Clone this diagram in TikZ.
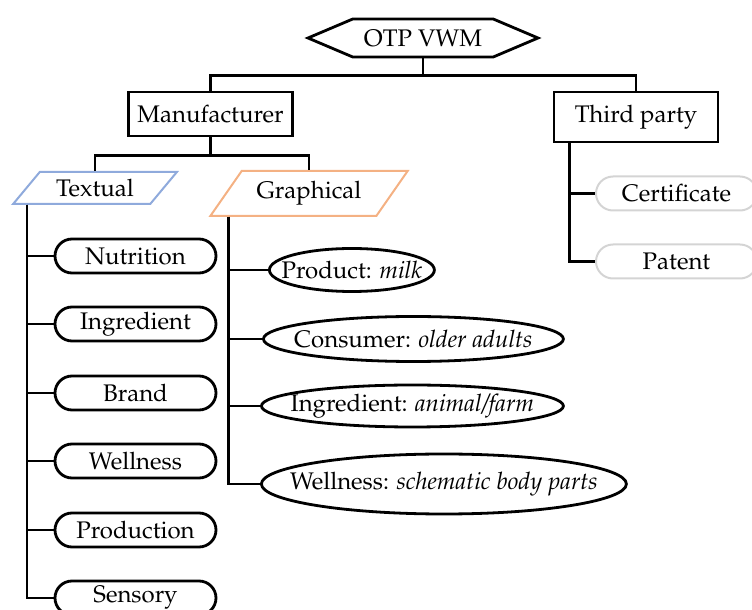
\documentclass[tikz,border=0pt]{standalone}
\usepackage[T1]{fontenc}
\usepackage{mathpazo}
\usepackage{xcolor}
\usetikzlibrary{shapes.geometric,shapes.misc,shapes.symbols,positioning}

\definecolor{txtblue}{HTML}{8FAADC}
\definecolor{grforange}{HTML}{F4B183}
\definecolor{tpgray}{HTML}{D4D4D4}

\begin{document}
\begin{tikzpicture}[x=0.5pt,y=-0.5pt,line width=1.4pt,
        font=\fontsize{12}{14}\selectfont,
        top node/.style={signal,signal to=west and east,signal pointer angle=46,draw,minimum width=115pt,minimum height=19pt,inner sep=1pt},
        box node/.style={rectangle,draw,minimum width=82pt,inner sep=2pt},
        type node/.style={trapezium,trapezium left angle=48,trapezium right angle=132,trapezium stretches=true,draw,line width=1pt,inner sep=1pt},
        item node/.style={rounded rectangle,draw,minimum width=82.5pt,minimum height=17pt,inner sep=1pt},
        ell node/.style={ellipse,draw,inner xsep=-20pt,inner ysep=0.5pt},
        third node/.style={item node,draw=tpgray,line width=1pt}]

    \useasboundingbox (0,0) rectangle (752,610);

    \node[top node] (otp) at (423,38) {OTP VWM};
    \node[box node,minimum height=22pt] (mfr) at (210.5,114) {Manufacturer};
    \node[box node,minimum height=25pt] (third) at (636,117) {Third party};

    \node[type node,draw=txtblue,minimum width=82pt,minimum height=16pt] (text) at (95,188) {Textual};
    \node[type node,draw=grforange,minimum width=99pt,minimum height=22.5pt] (graph) at (309,193.5) {Graphical};

    % textual labels
    \node[item node] (nutri) at (135.5,256) {Nutrition};
    \node[item node] (ingr) at (135.5,324) {Ingredient};
    \node[item node] (brand) at (135.5,393) {Brand};
    \node[item node] (well) at (135.5,461) {Wellness};
    \node[item node] (prodn) at (135.5,530) {Production};
    \node[item node] (sens) at (135.5,598) {Sensory};

    % graphical labels
    \node[ell node,anchor=west,minimum width=82.5pt,minimum height=21.5pt] (prod) at (268,270) {Product: \textit{milk}};
    \node[ell node,anchor=west,minimum width=150pt,minimum height=22.5pt] (cons) at (262,339) {Consumer: \textit{older adults}};
    \node[ell node,anchor=west,minimum width=151pt,minimum height=21pt] (gingr) at (260,406) {Ingredient: \textit{animal/farm}};
    \node[ell node,anchor=west,minimum width=182.5pt,minimum height=30pt] (gwell) at (260,484) {Wellness: \textit{schematic body parts}};

    % third party
    \node[third node] (cert) at (676.5,193.5) {Certificate};
    \node[third node] (pat) at (676.5,261.5) {Patent};

    \draw (otp.south) -- ++(0,17) -| (mfr.north);
    \draw (otp.south) -- ++(0,17) -| (third.north);
    \draw (mfr.south) -- ++(0,18) -| (text.north);
    \draw (mfr.south) -- ++(0,18) -| (graph.north);

    \foreach \n in {nutri,ingr,brand,well,prodn,sens}
        \draw ([xshift=8pt]text.bottom left corner) |- (\n.west);
    \foreach \n in {prod,cons,gingr,gwell}
        \draw ([xshift=10pt]graph.bottom left corner) |- (\n.west);
    \foreach \n in {cert,pat}
        \draw ([xshift=8.5pt]third.south west) |- (\n.west);

\end{tikzpicture}
\end{document}
